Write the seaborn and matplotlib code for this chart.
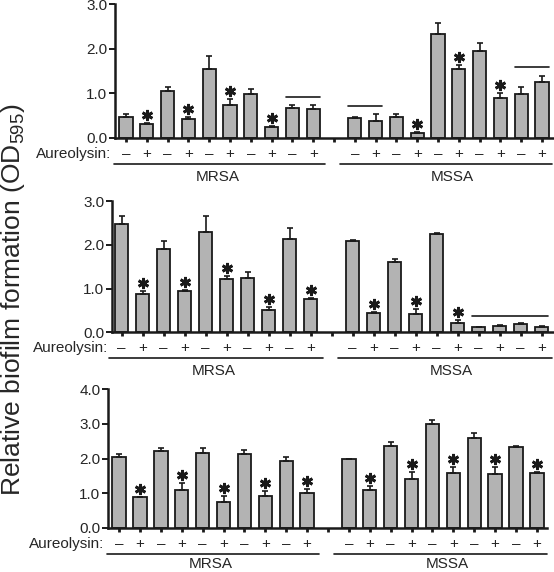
import numpy as np
import pandas as pd
import matplotlib
matplotlib.use("Agg")
import matplotlib.pyplot as plt
from matplotlib.transforms import offset_copy
import seaborn as sns

# ---- data ----
# panel 1 (top)
p1_mrsa = [0.47, 0.31, 1.06, 0.41, 1.54, 0.74, 0.98, 0.25, 0.66, 0.65]
p1_mrsa_err = [0.06, 0.02, 0.09, 0.06, 0.29, 0.12, 0.12, 0.02, 0.08, 0.09]
p1_mssa = [0.44, 0.38, 0.47, 0.10, 2.33, 1.55, 1.94, 0.90, 0.98, 1.26]
p1_mssa_err = [0.02, 0.15, 0.06, 0.03, 0.26, 0.09, 0.19, 0.10, 0.16, 0.12]
p1_stars_mrsa = [1, 3, 5, 7]
p1_stars_mssa = [3, 5, 7]
p1_ns = [("MRSA", 8, 9, 0.92), ("MSSA", 0, 1, 0.71), ("MSSA", 8, 9, 1.59)]

# panel 2 (middle)
p2_mrsa = [2.48, 0.87, 1.91, 0.95, 2.30, 1.22, 1.24, 0.50, 2.13, 0.76]
p2_mrsa_err = [0.18, 0.08, 0.18, 0.03, 0.36, 0.07, 0.15, 0.09, 0.27, 0.02]
p2_mssa = [2.09, 0.44, 1.60, 0.42, 2.25, 0.22, 0.12, 0.15, 0.19, 0.13]
p2_mssa_err = [0.03, 0.03, 0.08, 0.11, 0.02, 0.06, 0.01, 0.01, 0.02, 0.01]
p2_stars_mrsa = [1, 3, 5, 7, 9]
p2_stars_mssa = [1, 3, 5]
p2_ns = [("MSSA", 6, 9, 0.38)]

# panel 3 (bottom)
p3_mrsa = [2.03, 0.89, 2.21, 1.09, 2.16, 0.75, 2.13, 0.91, 1.93, 0.99]
p3_mrsa_err = [0.11, 0.01, 0.08, 0.19, 0.13, 0.17, 0.13, 0.16, 0.12, 0.13]
p3_mssa = [1.98, 1.09, 2.36, 1.41, 3.01, 1.57, 2.58, 1.54, 2.34, 1.59]
p3_mssa_err = [0.02, 0.12, 0.12, 0.19, 0.09, 0.19, 0.16, 0.22, 0.02, 0.03]
p3_stars_mrsa = [1, 3, 5, 7, 9]
p3_stars_mssa = [1, 3, 5, 7, 9]
p3_ns = []

signs = ["–", "+"] * 5
groups = ["MRSA", "MSSA"]
ylabel = r"Relative biofilm formation (OD$_{\mathrm{595}}$)"

BAR = "#b3b3b3"
INK = "#1a1a1a"

sns.set_style("ticks")
plt.rcParams["font.family"] = ["Liberation Sans", "DejaVu Sans"]
plt.rcParams["mathtext.fontset"] = "custom"
plt.rcParams["mathtext.rm"] = "Liberation Sans"

W, H = 554, 572
fig = plt.figure(figsize=(W / 100, H / 100), dpi=100)


def panel(rect_px, ymax, xlim, mrsa, mrsa_err, mssa, mssa_err, st_mrsa, st_mssa, ns, lab_off=-43):
    left, top, right, bottom = rect_px
    ax = fig.add_axes([left / W, 1 - bottom / H, (right - left) / W, (bottom - top) / H])

    # 10 MRSA bars, an empty slot, 10 MSSA bars
    names = [f"MRSA{i}" for i in range(10)] + ["gap"] + [f"MSSA{i}" for i in range(10)]
    df = pd.DataFrame({
        "cond": [f"MRSA{i}" for i in range(10)] + [f"MSSA{i}" for i in range(10)],
        "value": mrsa + mssa,
    })
    sns.barplot(data=df, x="cond", y="value", order=names, color=BAR, saturation=1,
                edgecolor=INK, linewidth=1.3, width=0.64, errorbar=None, ax=ax)

    pos = np.r_[np.arange(10), np.arange(11, 21)]
    vals = np.array(mrsa + mssa)
    errs = np.array(mrsa_err + mssa_err)
    ax.errorbar(pos, vals, yerr=[np.zeros_like(errs), errs], fmt="none",
                ecolor=INK, elinewidth=1.2, capsize=2.5, capthick=1.2, zorder=1)

    # significance stars, a few pixels above the error bar
    star_tr = offset_copy(ax.transData, fig=fig, y=8, units="dots")
    stars = list(st_mrsa) + [i + 10 for i in st_mssa]
    ax.plot(pos[stars], (vals + errs)[stars], linestyle="none", marker=(6, 2, 0),
            markersize=8, markeredgewidth=2, color=INK, transform=star_tr, clip_on=False)

    # bars joined by a plain line
    for grp, a, b, y in ns:
        off = 0 if grp == "MRSA" else 11
        ax.plot([off + a - 0.32, off + b + 0.32], [y, y], color=INK, lw=1.2)

    ax.set_xlim(*xlim)
    ax.set_ylim(0, ymax)
    ax.set_yticks(np.arange(0, ymax + 0.01, 1.0))
    ax.set_yticklabels([f"{v:.1f}" for v in np.arange(0, ymax + 0.01, 1.0)])
    ax.set_xticks(range(21))
    ax.set_xticklabels([])
    ax.set_xlabel("")
    ax.set_ylabel("")
    sns.despine(ax=ax)
    for sp in ["left", "bottom"]:
        ax.spines[sp].set_linewidth(1.8)
        ax.spines[sp].set_color(INK)
    ax.tick_params(axis="y", length=4, width=1.4, labelsize=11, pad=1.5, color=INK)
    ax.tick_params(axis="x", length=3, width=2, color=INK)

    # -/+ row and its label
    sign_tr = offset_copy(ax.get_xaxis_transform(), fig=fig, y=-20, units="dots")
    for p, s in zip(pos, signs + signs):
        ax.text(p, 0, s, transform=sign_tr, ha="center", va="baseline", fontsize=11)
    tr = offset_copy(ax.transAxes, fig=fig, x=-4, y=-20, units="dots")
    ax.text(0, 0, "Aureolysin:", transform=tr, ha="right", va="baseline", fontsize=11)

    # group lines and names underneath
    line_tr = offset_copy(ax.get_xaxis_transform(), fig=fig, y=-26, units="dots")
    ax.plot([-0.6, 9.57], [0, 0], transform=line_tr, color=INK, lw=1.2, clip_on=False)
    ax.plot([10.3, 20.5], [0, 0], transform=line_tr, color=INK, lw=1.2, clip_on=False)
    lab_tr = offset_copy(ax.get_xaxis_transform(), fig=fig, y=lab_off, units="dots")
    ax.text(4.4, 0, groups[0], transform=lab_tr, ha="center", va="baseline", fontsize=11)
    ax.text(15.7, 0, groups[1], transform=lab_tr, ha="center", va="baseline", fontsize=11)
    return ax


panel((115, 4.4, 553, 137.7), 3.0, (-0.53, 20.53), p1_mrsa, p1_mrsa_err, p1_mssa, p1_mssa_err,
      p1_stars_mrsa, p1_stars_mssa, p1_ns)
panel((112, 201.3, 553, 332.3), 3.0, (-0.46, 20.54), p2_mrsa, p2_mrsa_err, p2_mssa, p2_mssa_err,
      p2_stars_mrsa, p2_stars_mssa, p2_ns)
panel((108, 389.3, 547, 527.7), 4.0, (-0.53, 20.48), p3_mrsa, p3_mrsa_err, p3_mssa, p3_mssa_err,
      p3_stars_mrsa, p3_stars_mssa, p3_ns, lab_off=-40)

fig.text(13 / W, 1 - 300 / H, ylabel, rotation=90, ha="center", va="center", fontsize=19)

fig.savefig("out.png", dpi=100)
